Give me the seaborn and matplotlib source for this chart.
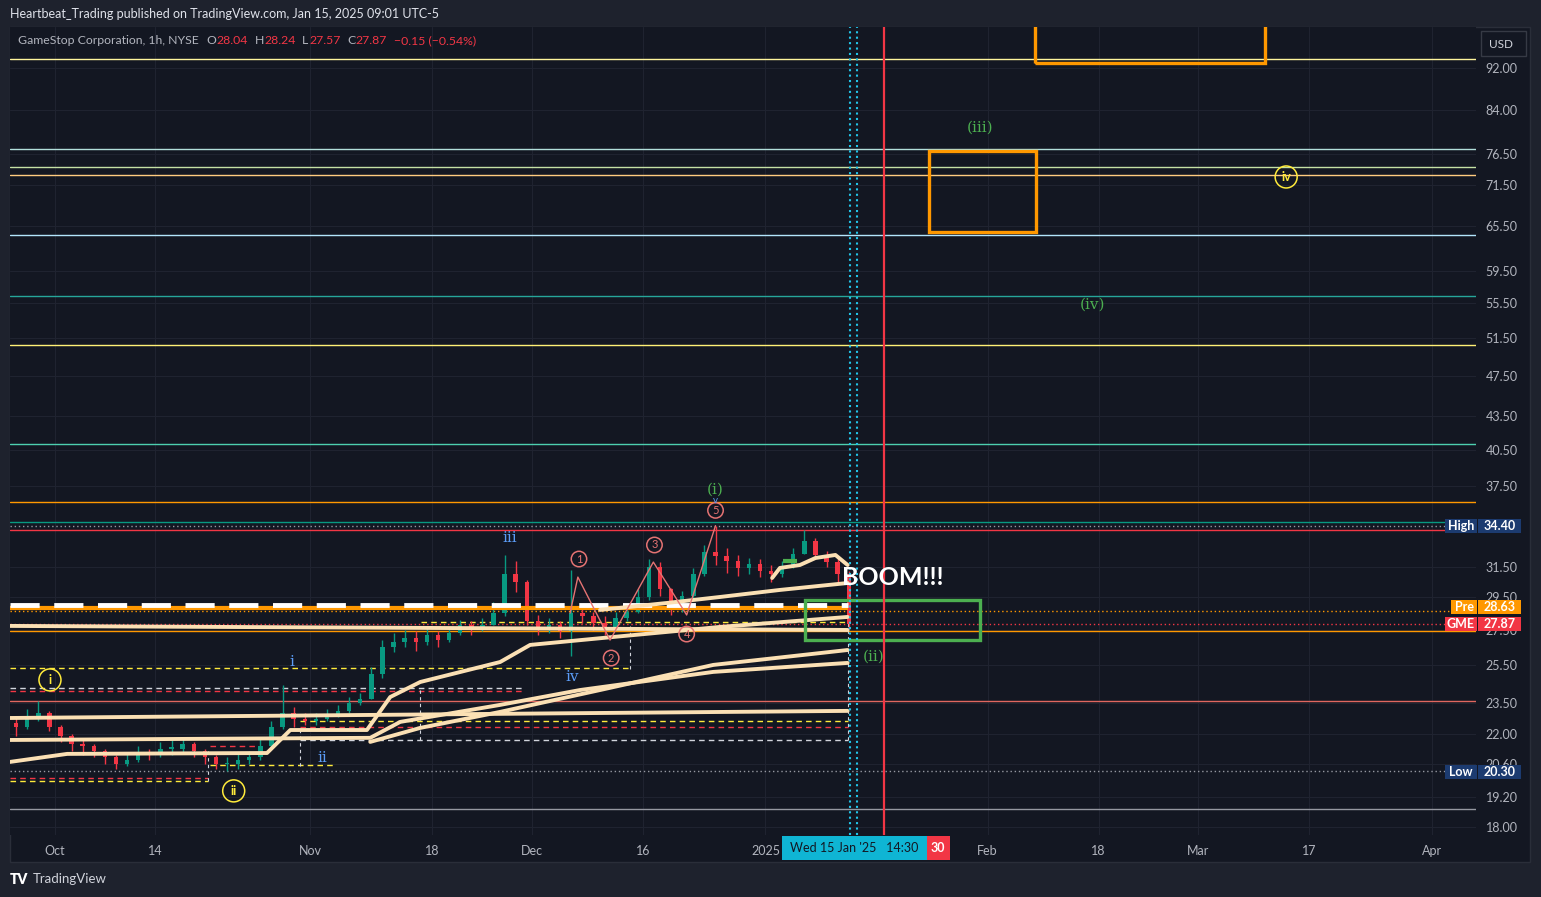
import matplotlib
matplotlib.use("Agg")

import numpy as np
import pandas as pd
import matplotlib.pyplot as plt
import seaborn as sns
from matplotlib.patches import Rectangle
from matplotlib.ticker import NullLocator

sns.set_style("dark")
plt.rcParams["font.family"] = ["Lato", "DejaVu Sans"]

# ---------------- data ----------------
# daily bars, trading-day index -5 (Sep 24) .. 71 (Jan 14)
closes = [22.5, 22.3, 22.8, 23.0, 22.3, 21.9, 21.5, 21.4, 21.2, 20.9,
          20.6, 20.8, 21.1, 21.0, 21.3, 21.3, 21.5, 21.2, 20.9, 20.6,
          20.6, 20.8, 20.9, 21.4, 22.3, 23.0, 22.7, 22.6, 22.7, 22.9,
          23.1, 23.5, 23.7, 25.0, 26.5, 26.8, 27.0, 26.8, 27.2, 26.9,
          27.3, 27.8, 27.6, 27.8, 28.5, 31.0, 30.5, 28.0, 27.6, 27.8,
          27.4, 28.5, 28.3, 27.9, 27.6, 28.2, 28.6, 29.5, 31.5, 30.0,
          28.8, 29.6, 31.0, 32.5, 32.2, 31.9, 31.4, 31.7, 31.2, 31.0,
          31.5, 32.4, 33.3, 32.3, 31.8, 31.0, 27.87]
highs = [22.9, 22.8, 23.2, 23.6, 23.1, 22.4, 22.0, 21.7, 21.5, 21.3,
         21.0, 21.1, 21.4, 21.3, 21.6, 21.7, 21.8, 21.6, 21.3, 21.0,
         20.9, 21.1, 21.2, 21.8, 22.6, 24.4, 23.3, 23.0, 23.0, 23.2,
         23.4, 23.8, 24.0, 25.4, 26.9, 27.3, 27.5, 27.4, 27.6, 27.4,
         27.6, 28.1, 28.0, 28.2, 29.2, 32.3, 31.9, 30.6, 28.4, 28.2,
         28.0, 31.3, 29.0, 28.6, 28.3, 28.6, 29.0, 30.0, 32.0, 31.8,
         30.1, 29.9, 31.4, 33.0, 34.4, 32.8, 32.3, 32.1, 32.0, 31.6,
         31.9, 32.8, 34.1, 33.5, 32.6, 32.2, 31.2]
lows = [22.1, 21.9, 22.2, 22.6, 22.1, 21.6, 21.2, 21.0, 20.9, 20.6,
        20.4, 20.5, 20.7, 20.8, 20.9, 21.0, 21.1, 20.9, 20.6, 20.4,
        20.3, 20.4, 20.6, 20.8, 21.3, 22.2, 22.3, 22.4, 22.4, 22.6,
        22.8, 23.0, 23.4, 23.7, 24.8, 26.2, 26.5, 26.3, 26.6, 26.5,
        26.8, 27.2, 27.2, 27.4, 27.8, 28.3, 29.8, 27.8, 27.2, 27.3,
        27.0, 26.0, 27.9, 27.5, 27.2, 27.5, 28.0, 28.5, 29.3, 29.6,
        28.4, 28.6, 29.4, 30.9, 31.6, 31.1, 30.9, 31.0, 30.8, 30.5,
        30.8, 31.4, 32.4, 32.0, 31.5, 30.4, 27.57]
first_open = 22.6
first_day = -5

# anchored VWAP style lines (trading-day index, price)
vwap_lines = {
    "B": ([-4.05, 71.4], [22.75, 23.10]),
    "C": ([-4.05, 28.4, 31.1, 40.1, 47.3, 59.3, 71.4],
          [21.70, 21.80, 22.56, 23.40, 24.16, 25.12, 25.61]),
    "D": ([-4.05, 1.1, 19.1, 21.2, 28.1, 30.2, 32.9, 40.1, 42.8, 50.3, 59.9, 71.4],
          [20.70, 21.06, 21.10, 22.17, 22.17, 23.80, 24.58, 25.66, 26.62, 27.08, 27.67, 28.27]),
    "E": ([28.4, 32.9, 40.1, 49.1, 59.3, 71.4],
          [21.61, 22.27, 23.05, 24.16, 25.50, 26.33]),
    "F": ([-4.05, 71.4], [27.73, 27.49]),
    "G": ([49.1, 55.1, 59.9, 65.3, 71.4], [28.70, 29.13, 29.51, 29.96, 30.41]),
    "H": ([64.6, 65.3, 67.1, 68.5, 70.3, 71.4], [30.74, 31.41, 31.61, 32.09, 32.30, 31.61]),
}

# wave zigzag
zig_x = [46.4, 47.1, 50.0, 53.9, 56.9, 59.5]
zig_y = [28.51, 30.80, 26.90, 31.81, 28.39, 34.40]

# full width horizontal levels
level_prices = [93.8, 77.3, 74.4, 73.1, 64.2, 56.4, 50.7, 41.0, 36.2, 34.65, 34.1, 27.45, 23.6, 18.7]
level_colors = ["#fff59d", "#b2dfdb", "#c5e1a5", "#ffcc80", "#b3e5fc", "#26a69a", "#fff176",
                "#4dd0b0", "#ff9800", "#089981", "#f23645", "#ff9800", "#e0675f", "#9598a1"]
dotted_prices = [34.40, 28.63, 27.87, 20.30]
dotted_colors = ["#9598a1", "#ff9800", "#f23645", "#9598a1"]

# dashed zone lines (start idx, end idx, price)
zone_start = [-4.05, -4.05, -4.05, -4.05, -4.05, 22.1, 22.1, 22.1, 14.0, 14.0, 33.0]
zone_end = [51.8, 42.2, 42.2, 13.8, 13.8, 71.4, 71.4, 71.4, 25.0, 18.0, 71.4]
zone_price = [25.33, 24.26, 24.10, 20.00, 19.85, 22.60, 22.30, 21.70, 20.55, 21.40, 27.95]
zone_colors = ["#ffeb3b", "#d1d4dc", "#f23645", "#f23645", "#ffeb3b", "#ffeb3b", "#f23645",
               "#d1d4dc", "#ffeb3b", "#f23645", "#ffeb3b"]
vdash_x = [32.9, 51.8, 71.4, 13.8, 22.1]
vdash_lo = [21.7, 25.3, 21.7, 19.85, 20.5]
vdash_hi = [24.3, 27.7, 28.7, 21.2, 22.3]

# boxes (idx0, idx1, price0, price1)
orange_boxes = [(88.3, 109.0, 93.0, 130.0), (78.7, 88.4, 64.7, 77.0)]
green_box = (67.6, 83.3, 26.9, 29.32)

# labels (text, idx, price, color, circled)
wave_labels = [
    ("(iii)", 83.3, 80.9, "#4caf50", False),
    ("iv", 110.9, 72.8, "#ffeb3b", True),
    ("(iv)", 93.5, 55.3, "#4caf50", False),
    ("(i)", 59.5, 37.2, "#4caf50", False),
    ("5", 59.5, 35.55, "#e57373", True),
    ("(ii)", 73.7, 25.94, "#4caf50", False),
    ("iii", 41.0, 33.5, "#5b9cf6", False),
    ("i", 21.3, 25.66, "#5b9cf6", False),
    ("ii", 24.1, 20.88, "#5b9cf6", False),
    ("iv", 46.6, 24.85, "#5b9cf6", False),
    ("1", 47.2, 32.02, "#e57373", True),
    ("2", 50.1, 25.88, "#e57373", True),
    ("3", 54.0, 33.0, "#e57373", True),
    ("4", 56.9, 27.25, "#e57373", True),
    ("i", -0.45, 24.69, "#ffeb3b", True),
    ("ii", 16.1, 19.45, "#ffeb3b", True),
]

price_ticks = [92.00, 84.00, 76.50, 71.50, 65.50, 59.50, 55.50, 51.50, 47.50, 43.50,
               40.50, 37.50, 31.50, 29.50, 27.50, 25.50, 23.50, 22.00, 20.60, 19.20, 18.00]
time_ticks = [0, 9, 23, 34, 43, 53, 64, 84, 94, 103, 113, 124]
time_labels = ["Oct", "14", "Nov", "18", "Dec", "16", "2025", "Feb", "18", "Mar", "17", "Apr"]

legend_parts = [("GameStop Corporation, 1h, NYSE", 0), ("O", 7), ("28.04", 0), ("H", 6), ("28.24", 0),
                ("L", 6), ("27.57", 0), ("C", 6), ("27.87", 0), ("\u22120.15 (\u22120.54%)", 7)]

now_idx = [71.6, 72.25]
red_idx = 74.7

# ---------------- figure ----------------
W, H = 1541, 897
BG = "#131722"
FRAME = "#1e222d"
TXT = "#b2b5be"
UP, DN = "#089981", "#f23645"


def fx(px):
    return px / W


def fy(py):
    return 1 - py / H


fig = plt.figure(figsize=(W / 100, H / 100), dpi=100, facecolor=FRAME)
fig.add_artist(Rectangle((fx(10), fy(862)), fx(1530) - fx(10), fy(27) - fy(862),
                         transform=fig.transFigure, facecolor=BG, edgecolor="#2a2e39", lw=1, zorder=0))
ax = fig.add_axes([fx(10), fy(835), fx(1476) - fx(10), fy(27) - fy(835)])
ax.set_facecolor(BG)
for s in ax.spines.values():
    s.set_visible(False)

ax.set_yscale("log")
ax.set_xlim(-4.05, 128.0)
ax.set_ylim(17.69, 100.5)

# grid
for p in price_ticks:
    ax.axhline(p, color="#1f2330", lw=0.8, zorder=0)
for t in time_ticks:
    ax.axvline(t, color="#1f2330", lw=0.8, zorder=0)

# full width levels
for p, c in zip(level_prices, level_colors):
    ax.axhline(p, color=c, lw=1.0, zorder=1)
for p, c in zip(dotted_prices, dotted_colors):
    ax.axhline(p, color=c, lw=1.0, ls=(0, (1, 2)), zorder=1)

# dashed zones
for x0, x1, p, c in zip(zone_start, zone_end, zone_price, zone_colors):
    ax.hlines(p, x0, x1, color=c, lw=1.0, ls=(0, (4, 3)), zorder=2)
for x, lo, hi in zip(vdash_x, vdash_lo, vdash_hi):
    ax.vlines(x, lo, hi, color="#d1d4dc", lw=0.8, ls=(0, (3, 3)), zorder=2)

# candles
days = np.arange(first_day, first_day + len(closes)) + 0.5
c_arr = np.array(closes)
o_arr = np.array([first_open] + closes[:-1])
colors = [UP if c >= o else DN for o, c in zip(o_arr, c_arr)]
ax.vlines(days, lows, highs, color=colors, lw=1.0, zorder=3)
body_lo = np.minimum(o_arr, c_arr)
body_h = np.maximum(np.abs(c_arr - o_arr), 0.06)
ax.bar(days, body_h, bottom=body_lo, width=0.4, color=colors, edgecolor="none", linewidth=0, zorder=3)

# thick horizontal bands
ax.hlines(28.85, -4.05, 71.4, color="#ff9800", lw=3.0, zorder=4)
ax.hlines(29.0, -4.05, 71.4, color="white", lw=3.5, ls=(0, (6, 3)), zorder=4)

# cream vwap lines
vw = pd.concat([pd.DataFrame({"idx": xs, "price": ys, "line": k}) for k, (xs, ys) in vwap_lines.items()])
sns.lineplot(data=vw, x="idx", y="price", units="line", estimator=None, sort=False,
             color="#fbe0b4", lw=2.8, ax=ax, zorder=5)
ax.hlines(31.9, 65.6, 66.8, color="#4caf50", lw=3, zorder=5)

# zigzag
ax.plot(zig_x, zig_y, color="#e57373", lw=1.0, zorder=6)

# boxes
for x0, x1, p0, p1 in orange_boxes:
    ax.add_patch(Rectangle((x0, p0), x1 - x0, p1 - p0, fill=False, ec="#ff9800", lw=2.4, zorder=6))
gx0, gx1, gp0, gp1 = green_box
ax.add_patch(Rectangle((gx0, gp0), gx1 - gx0, gp1 - gp0, fill=False, ec="#4caf50", lw=2.4, zorder=6))

# vertical markers
for x in now_idx:
    ax.axvline(x, color="#22c4e8", lw=1.5, ls=(0, (1, 1.6)), zorder=6)
ax.axvline(red_idx, color="#f23645", lw=1.6, zorder=6)

# labels
for txt, x, p, c, circ in wave_labels:
    if circ:
        big = c == "#ffeb3b"
        ax.text(x, p, txt, color=c, fontsize=9 if big else 8, ha="center", va="center", zorder=7,
                fontweight="bold" if big else "normal",
                bbox=dict(boxstyle="circle,pad=%s" % (0.4 if big else 0.2), fc="none", ec=c, lw=1.1))
    else:
        ax.text(x, p, txt, color=c, fontsize=11, ha="center", va="center", zorder=7,
                family="DejaVu Serif")
ax.text(59.5, 36.35, "v", color="#5b9cf6", fontsize=7, ha="center", va="center", zorder=7)
ax.text(75.5, 30.8, "BOOM!!!", color="white", fontsize=18, fontweight="bold",
        ha="center", va="center", zorder=8)

# axes ticks
ax.yaxis.tick_right()
ax.yaxis.set_minor_locator(NullLocator())
ax.set_yticks(price_ticks)
ax.set_yticklabels([f"{p:.2f}" for p in price_ticks])
ax.set_xticks(time_ticks)
ax.set_xticklabels(time_labels)
ax.tick_params(axis="y", length=0, pad=7, labelsize=9, labelcolor=TXT)
ax.tick_params(axis="x", length=0, pad=7, labelsize=9, labelcolor=TXT)
ax.set_xlabel("")
ax.set_ylabel("")
ax.grid(False)

# price-axis badges
badges = [("High", "34.40", 526, "#1c3b70"),
          ("Pre", "28.63", 607, "#ff9800"),
          ("GME", "27.87", 624, "#f23645"),
          ("Low", "20.30", 772, "#1c3b70")]
for name, val, yc, c1 in badges:
    nx0 = 1451 if name == "Pre" else 1445
    fig.add_artist(Rectangle((fx(nx0), fy(yc + 7)), fx(1477) - fx(nx0), fy(yc - 7) - fy(yc + 7),
                             transform=fig.transFigure, fc=c1, ec="none", zorder=10))
    fig.add_artist(Rectangle((fx(1478), fy(yc + 7)), fx(1521) - fx(1478), fy(yc - 7) - fy(yc + 7),
                             transform=fig.transFigure, fc=c1, ec="none", zorder=10))
    fig.text(fx((nx0 + 1477) / 2), fy(yc), name, color="white", fontsize=9, fontweight="bold",
             ha="center", va="center", zorder=11)
    fig.text(fx(1500), fy(yc), val, color="white", fontsize=9, fontweight="bold",
             ha="center", va="center", zorder=11)

# USD box
fig.add_artist(Rectangle((fx(1481), fy(56)), fx(1526) - fx(1481), fy(31) - fy(56),
                         transform=fig.transFigure, fc="#131722", ec="#363a45", lw=1, zorder=10))
fig.text(fx(1501), fy(44), "USD", color="#d1d4dc", fontsize=8.5, ha="center", va="center", zorder=11)

# current time box on time axis
fig.add_artist(Rectangle((fx(782), fy(860)), fx(927) - fx(782), fy(836) - fy(860),
                         transform=fig.transFigure, fc="#0fb5d4", ec="none", zorder=10))
fig.add_artist(Rectangle((fx(927), fy(860)), fx(950) - fx(927), fy(836) - fy(860),
                         transform=fig.transFigure, fc="#f23645", ec="none", zorder=10))
fig.text(fx(854), fy(848), "Wed 15 Jan '25   14:30", color="#131722", fontsize=9,
         ha="center", va="center", zorder=11)
fig.text(fx(938), fy(848), "30", color="white", fontsize=9, fontweight="bold",
         ha="center", va="center", zorder=11)

# header / legend
fig.text(fx(10), fy(14), "Heartbeat_Trading published on TradingView.com, Jan 15, 2025 09:01 UTC-5",
         color="#e0e3eb", fontsize=9, va="center")
renderer = fig.canvas.get_renderer()
cur = 18
for i, (t, gap) in enumerate(legend_parts):
    cur += gap
    if i == 0 or t in ("O", "H", "L", "C"):
        col = "#b2b5be"
    else:
        col = DN
    tx = fig.text(fx(cur), fy(41), t, color=col, fontsize=8.8, va="center")
    cur = tx.get_window_extent(renderer).x1 + 0.5

fig.text(fx(10), fy(879), "TV", color="white", fontsize=10, fontweight="heavy", va="center")
fig.text(fx(33), fy(879), "TradingView", color="#d1d4dc", fontsize=9.5, va="center")

plt.savefig("out.png", dpi=100, facecolor=FRAME)
plt.close()
print("Saved: out.png")
